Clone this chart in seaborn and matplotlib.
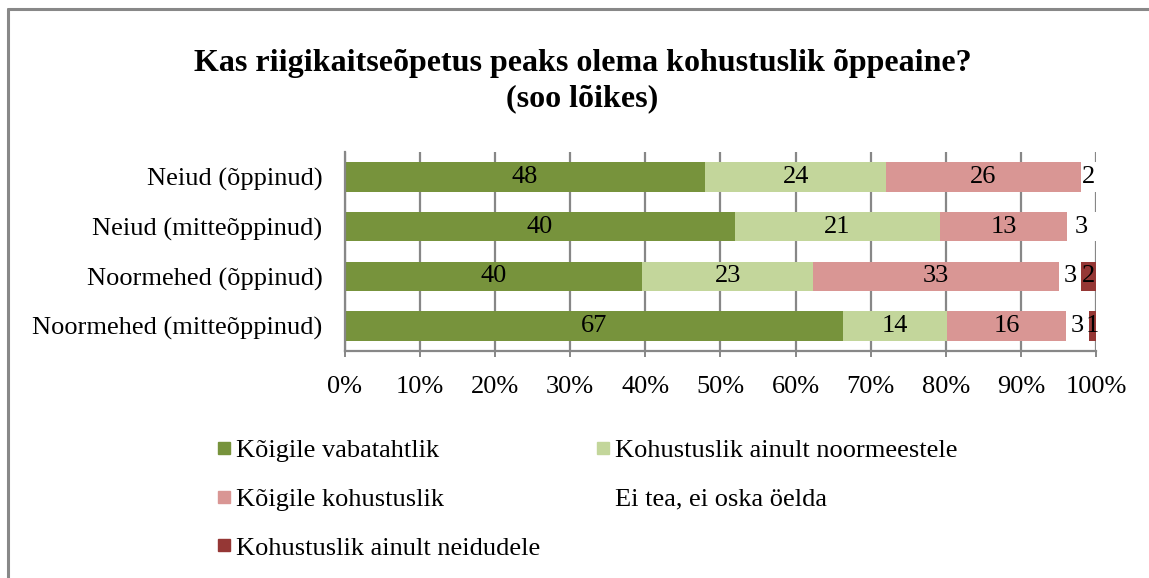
import numpy as np
import pandas as pd
import seaborn as sns
import matplotlib
matplotlib.use("Agg")
import matplotlib.pyplot as plt
from matplotlib.lines import Line2D

# values (counts per group)
groups = ['Neiud (õppinud)', 'Neiud (mitteõppinud)', 'Noormehed (õppinud)', 'Noormehed (mitteõppinud)']
series = ['Kõigile vabatahtlik', 'Kohustuslik ainult noormeestele', 'Kõigile kohustuslik',
          'Ei tea, ei oska öelda', 'Kohustuslik ainult neidudele']
vabatahtlik = [48, 40, 40, 67]
noormeestele = [24, 21, 23, 14]
koigile = [26, 13, 33, 16]
ei_tea = [2, 3, 3, 3]
neidudele = [0, 0, 2, 1]
colors = ['#77933C', '#C3D69B', '#D99694', '#FFFFFF', '#953735']
ticks = [0, 10, 20, 30, 40, 50, 60, 70, 80, 90, 100]

sns.set_theme(style='white')
plt.rcParams['font.family'] = ['Liberation Serif', 'DejaVu Serif']
plt.rcParams['text.color'] = 'black'
plt.rcParams['xtick.color'] = 'black'
plt.rcParams['ytick.color'] = 'black'

vals = np.array([vabatahtlik, noormeestele, koigile, ei_tea, neidudele], dtype=float)
pct = vals / vals.sum(axis=0) * 100
cum = np.cumsum(pct, axis=0)

fig = plt.figure(figsize=(11.49, 5.78), dpi=100)
ax = fig.add_axes([0.300, 0.393, 0.654, 0.344])

# draw cumulative bars from the outermost layer inwards (stacked look)
for i in range(len(series) - 1, -1, -1):
    df = pd.DataFrame({'group': groups, 'x': cum[i]})
    sns.barplot(data=df, x='x', y='group', orient='h', color=colors[i],
                width=0.59, saturation=1, ax=ax, zorder=2, edgecolor='none', linewidth=0)

# value labels in the middle of each segment
for i in range(len(series)):
    for j in range(len(groups)):
        if vals[i, j] == 0:
            continue
        centre = cum[i, j] - pct[i, j] / 2
        ax.text(centre, j, f'{int(vals[i, j])}', ha='center', va='center',
                fontsize=19, color='black', zorder=5)

ax.set_xlim(0, 100)
ax.set_ylim(3.5, -0.5)
ax.set_xticks(ticks)
ax.set_xticklabels([f'{t}%' for t in ticks])
ax.set_xlabel('')
ax.set_ylabel('')
ax.grid(axis='x', color='#878787', linewidth=1.6, zorder=0)
ax.set_axisbelow(True)
for s in ['top', 'right']:
    ax.spines[s].set_visible(False)
for s in ['left', 'bottom']:
    ax.spines[s].set_color('#878787')
    ax.spines[s].set_linewidth(1.6)
ax.tick_params(axis='x', labelsize=19, pad=14, length=4, color='#878787', width=1.4,
               bottom=True, labelcolor='black')
ax.tick_params(axis='y', labelsize=19, pad=16, length=0, labelcolor='black')

fig.text(0.507, 0.891, 'Kas riigikaitseõpetus peaks olema kohustuslik õppeaine?',
         ha='center', va='center', fontsize=23, fontweight='bold')
fig.text(0.507, 0.829, '(soo lõikes)', ha='center', va='center', fontsize=23, fontweight='bold')

order = [0, 2, 4, 1, 3]
handles = [Line2D([], [], marker='s', linestyle='none', markersize=9,
                  markerfacecolor=colors[k], markeredgecolor=colors[k]) for k in order]
labels = [series[k] for k in order]
fig.legend(handles, labels, loc='upper left', bbox_to_anchor=(0.180, 0.2595), ncol=2,
           frameon=False, fontsize=19, handlelength=0.5, handletextpad=0.2,
           labelspacing=0.96, columnspacing=2.15, borderaxespad=0)

# outer chart frame (only top and left visible in the crop)
fig.add_artist(Line2D([8 / 1149, 8 / 1149], [0, 1 - 9 / 578], transform=fig.transFigure,
                      color='#888888', linewidth=2.2))
fig.add_artist(Line2D([8 / 1149, 1], [1 - 9 / 578, 1 - 9 / 578], transform=fig.transFigure,
                      color='#888888', linewidth=2.2))

fig.savefig('out.png', dpi=100)
